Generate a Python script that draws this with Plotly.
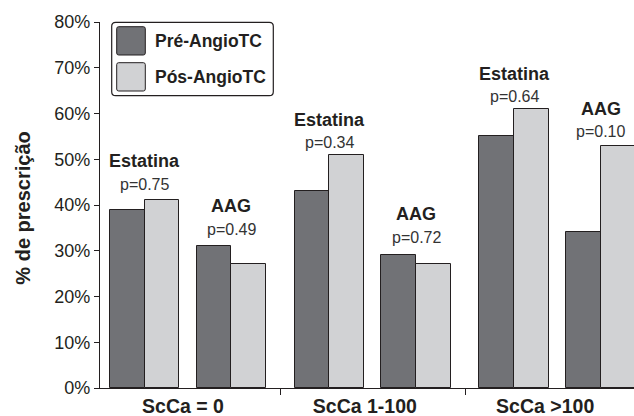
import plotly.graph_objects as go

# ---- data -------------------------------------------------------------
groups = ["ScCa = 0", "ScCa 1-100", "ScCa >100"]
drugs = ["Estatina", "AAG"]
# one value per (group, drug): [g0 Estatina, g0 AAG, g1 Estatina, ...]
pre_angio = [39, 31, 43, 29, 55, 34]
pos_angio = [41, 27, 51, 27, 61, 53]
p_values = ["p=0.75", "p=0.49", "p=0.34", "p=0.72", "p=0.64", "p=0.10"]
y_ticks = [0, 10, 20, 30, 40, 50, 60, 70, 80]
y_tick_labels = ["0%", "10%", "20%", "30%", "40%", "50%", "60%", "70%", "80%"]
series_names = ["Pré-AngioTC", "Pós-AngioTC"]

# ---- styling ----------------------------------------------------------
FONT = "Liberation Sans, Arial, Helvetica, sans-serif"
INK = "#231f20"
PRE_COLOR = "#717276"
POS_COLOR = "#d1d2d4"

FIG_W, FIG_H = 634, 416
M_L, M_R, M_T, M_B = 100, 0, 22, 28
PLOT_W = FIG_W - M_L - M_R
PLOT_H = FIG_H - M_T - M_B

BAR_W = 0.188          # width of one bar, in group units
PAIR_OFFSET = 0.235    # distance of each drug pair from the group centre
X_RANGE = [-0.476, -0.476 + PLOT_W / 184.8]
LABEL_SHIFT = [0.027, 0.043, 0.067]           # x-label nudges to the left
P_GAP = [16, 17, 12, 18, 12, 14]              # px between bar top and p label
NAME_GAP = 23                                  # px between p label and drug name

# positions of every bar pair
pair_x, pair_top = [], []
for g in range(len(groups)):
    for d in range(len(drugs)):
        i = g * len(drugs) + d
        pair_x.append(g + (-PAIR_OFFSET if d == 0 else PAIR_OFFSET))
        pair_top.append(max(pre_angio[i], pos_angio[i]))

fig = go.Figure()
fig.add_trace(go.Bar(
    x=[x - BAR_W / 2 for x in pair_x], y=pre_angio, width=BAR_W,
    name=series_names[0],
    marker=dict(color=PRE_COLOR, line=dict(color=INK, width=1)),
))
fig.add_trace(go.Bar(
    x=[x + BAR_W / 2 for x in pair_x], y=pos_angio, width=BAR_W,
    name=series_names[1],
    marker=dict(color=POS_COLOR, line=dict(color=INK, width=1)),
))

annotations = []
for i, (x, top) in enumerate(zip(pair_x, pair_top)):
    annotations.append(dict(
        x=x, y=top, xref="x", yref="y", text=p_values[i], showarrow=False,
        xanchor="center", yanchor="middle", yshift=P_GAP[i],
        font=dict(family=FONT, size=16, color="#333333"),
    ))
    annotations.append(dict(
        x=x, y=top, xref="x", yref="y", text="<b>%s</b>" % drugs[i % 2],
        showarrow=False, xanchor="center", yanchor="middle",
        yshift=P_GAP[i] + NAME_GAP,
        font=dict(family=FONT, size=18, color=INK),
    ))

# y-axis title
annotations.append(dict(
    x=(23 - M_L) / PLOT_W, y=0.49, xref="paper", yref="paper",
    text="<b>% de prescrição</b>", textangle=-90, showarrow=False,
    xanchor="center", yanchor="middle",
    font=dict(family=FONT, size=20, color=INK),
))


# ---- legend box, drawn by hand --------------------------------------
def px_x(px):
    return (px - M_L) / PLOT_W


def px_y(py):
    return (M_T + PLOT_H - py) / PLOT_H


def rounded_rect(x0, y0, x1, y1, r):
    """SVG path of a rounded rectangle given in pixel coordinates."""
    X0, X1 = px_x(x0), px_x(x1)
    Y0, Y1 = px_y(y0), px_y(y1)   # Y0 is the top edge
    rx, ry = r / PLOT_W, r / PLOT_H
    return (
        f"M {X0 + rx},{Y0} L {X1 - rx},{Y0} Q {X1},{Y0} {X1},{Y0 - ry} "
        f"L {X1},{Y1 + ry} Q {X1},{Y1} {X1 - rx},{Y1} "
        f"L {X0 + rx},{Y1} Q {X0},{Y1} {X0},{Y1 + ry} "
        f"L {X0},{Y0 - ry} Q {X0},{Y0} {X0 + rx},{Y0} Z"
    )


shapes = [dict(
    type="path", xref="paper", yref="paper",
    path=rounded_rect(111.7, 22.3, 273.3, 95.7, 4),
    line=dict(color=INK, width=1.2), fillcolor="white",
)]
swatch_rows = [(26.7, 55.0), (62.7, 91.0)]
for (top, bottom), name, color in zip(swatch_rows, series_names,
                                      [PRE_COLOR, POS_COLOR]):
    shapes.append(dict(
        type="path", xref="paper", yref="paper",
        path=rounded_rect(116.7, top, 145.3, bottom, 2),
        line=dict(color=INK, width=1), fillcolor=color,
    ))
    annotations.append(dict(
        x=px_x(152.5), y=px_y((top + bottom) / 2 + 0.5),
        xref="paper", yref="paper", text="<b>%s</b>" % name,
        showarrow=False, xanchor="left", yanchor="middle",
        font=dict(family=FONT, size=17.5, color=INK),
    ))

fig.update_layout(
    width=FIG_W, height=FIG_H,
    margin=dict(l=M_L, r=M_R, t=M_T, b=M_B, pad=0),
    paper_bgcolor="white", plot_bgcolor="white",
    showlegend=False, bargap=0,
    annotations=annotations, shapes=shapes,
    font=dict(family=FONT, color=INK),
)
fig.update_xaxes(
    range=X_RANGE, showgrid=False, zeroline=False, automargin=False,
    showline=True, linecolor=INK, linewidth=1.2,
    tickmode="array",
    tickvals=[g - LABEL_SHIFT[g] for g in range(len(groups))],
    ticktext=["<b>%s</b>" % g for g in groups],
    ticks="outside", ticklen=0, ticklabelstandoff=0,
    tickfont=dict(family=FONT, size=19.5, color=INK),
    minor=dict(tickmode="array", tickvals=[0.5, 1.5], ticks="outside",
               ticklen=6, tickwidth=1.2, tickcolor=INK, showgrid=False),
)
fig.update_yaxes(
    range=[0, 80], showgrid=False, zeroline=False, automargin=False,
    showline=True, linecolor=INK, linewidth=1.2,
    tickmode="array", tickvals=y_ticks, ticktext=y_tick_labels,
    ticks="outside", ticklen=5, tickwidth=1.2, tickcolor=INK,
    tickfont=dict(family=FONT, size=18, color=INK),
)

fig.write_html("out.html")
